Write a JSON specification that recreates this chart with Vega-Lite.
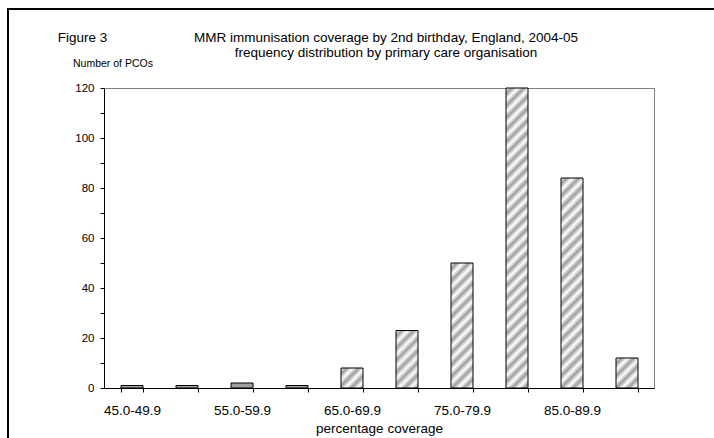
{
  "$schema": "https://vega.github.io/schema/vega-lite/v6.json",
  "width": 900,
  "height": 500,
  "autosize": {"type": "none"},
  "padding": {"left": 8, "top": 9, "right": -194, "bottom": -71},
  "background": "white",
  "config": {
    "view": {"stroke": "black", "strokeWidth": 2, "fill": "white"},
    "font": "Liberation Sans",
    "axis": {
      "labelFont": "Liberation Sans",
      "titleFont": "Liberation Sans",
      "labelColor": "black",
      "titleColor": "black",
      "domainColor": "black",
      "tickColor": "black",
      "grid": false,
      "titleFontWeight": "normal"
    }
  },
  "data": {
    "values": [
      {"range": "45.0-49.9", "count": 1},
      {"range": "50.0-54.9", "count": 1},
      {"range": "55.0-59.9", "count": 2},
      {"range": "60.0-64.9", "count": 1},
      {"range": "65.0-69.9", "count": 8},
      {"range": "70.0-74.9", "count": 23},
      {"range": "75.0-79.9", "count": 50},
      {"range": "80.0-84.9", "count": 120},
      {"range": "85.0-89.9", "count": 84},
      {"range": "90.0-94.9", "count": 12}
    ]
  },
  "layer": [
    {
      "mark": {"type": "bar", "stroke": "black", "strokeWidth": 1},
      "encoding": {
        "x": {
          "field": "range",
          "type": "nominal",
          "sort": null,
          "scale": {"range": [96.5, 646.5], "paddingInner": 0.6, "paddingOuter": 0.3},
          "axis": {
            "orient": "bottom",
            "offset": -121,
            "tickBand": "extent",
            "tickSize": 4,
            "labelPadding": 11,
            "labelFontSize": 13.5,
            "labelAngle": 0,
            "labelOverlap": false,
            "labelExpr": "indexof(['45.0-49.9','55.0-59.9','65.0-69.9','75.0-79.9','85.0-89.9'], datum.value) >= 0 ? datum.label : ''",
            "title": "percentage coverage",
            "titleFontSize": 13.5,
            "titleAlign": "center",
            "titleBaseline": "alphabetic",
            "titleX": 371,
            "titleY": 44.5
          }
        },
        "y": {
          "field": "count",
          "type": "quantitative",
          "scale": {"domain": [0, 120], "range": [379, 79], "nice": false},
          "axis": {
            "orient": "left",
            "offset": -96,
            "values": [0, 10, 20, 30, 40, 50, 60, 70, 80, 90, 100, 110, 120],
            "labelExpr": "datum.value % 20 === 0 ? datum.label : ''",
            "tickSize": 4,
            "labelPadding": 6,
            "labelFontSize": 11.5,
            "title": "Number of PCOs",
            "titleFontSize": 10.5,
            "titleAngle": 0,
            "titleAlign": "left",
            "titleBaseline": "alphabetic",
            "titleX": -31.5,
            "titleY": 57.5
          }
        },
        "fill": {
          "condition": [
            {"test": "datum.range === '80.0-84.9'", "value": {"gradient": "linear", "x1": 0, "y1": 0, "x2": 0.0783, "y2": 1.0676, "stops": [
              {"offset": 0, "color": "#ffffff"}, {"offset": 0.0186, "color": "#9e9e9e"}, {"offset": 0.0373, "color": "#ffffff"}, {"offset": 0.0559, "color": "#9e9e9e"},
              {"offset": 0.0745, "color": "#ffffff"}, {"offset": 0.0932, "color": "#9e9e9e"}, {"offset": 0.1118, "color": "#ffffff"}, {"offset": 0.1304, "color": "#9e9e9e"},
              {"offset": 0.1491, "color": "#ffffff"}, {"offset": 0.1677, "color": "#9e9e9e"}, {"offset": 0.1863, "color": "#ffffff"}, {"offset": 0.2050, "color": "#9e9e9e"},
              {"offset": 0.2236, "color": "#ffffff"}, {"offset": 0.2422, "color": "#9e9e9e"}, {"offset": 0.2609, "color": "#ffffff"}, {"offset": 0.2795, "color": "#9e9e9e"},
              {"offset": 0.2981, "color": "#ffffff"}, {"offset": 0.3168, "color": "#9e9e9e"}, {"offset": 0.3354, "color": "#ffffff"}, {"offset": 0.3540, "color": "#9e9e9e"},
              {"offset": 0.3727, "color": "#ffffff"}, {"offset": 0.3913, "color": "#9e9e9e"}, {"offset": 0.4099, "color": "#ffffff"}, {"offset": 0.4286, "color": "#9e9e9e"},
              {"offset": 0.4472, "color": "#ffffff"}, {"offset": 0.4658, "color": "#9e9e9e"}, {"offset": 0.4845, "color": "#ffffff"}, {"offset": 0.5031, "color": "#9e9e9e"},
              {"offset": 0.5217, "color": "#ffffff"}, {"offset": 0.5404, "color": "#9e9e9e"}, {"offset": 0.5590, "color": "#ffffff"}, {"offset": 0.5776, "color": "#9e9e9e"},
              {"offset": 0.5963, "color": "#ffffff"}, {"offset": 0.6149, "color": "#9e9e9e"}, {"offset": 0.6335, "color": "#ffffff"}, {"offset": 0.6522, "color": "#9e9e9e"},
              {"offset": 0.6708, "color": "#ffffff"}, {"offset": 0.6894, "color": "#9e9e9e"}, {"offset": 0.7081, "color": "#ffffff"}, {"offset": 0.7267, "color": "#9e9e9e"},
              {"offset": 0.7453, "color": "#ffffff"}, {"offset": 0.7640, "color": "#9e9e9e"}, {"offset": 0.7826, "color": "#ffffff"}, {"offset": 0.8012, "color": "#9e9e9e"},
              {"offset": 0.8199, "color": "#ffffff"}, {"offset": 0.8385, "color": "#9e9e9e"}, {"offset": 0.8571, "color": "#ffffff"}, {"offset": 0.8758, "color": "#9e9e9e"},
              {"offset": 0.8944, "color": "#ffffff"}, {"offset": 0.9130, "color": "#9e9e9e"}, {"offset": 0.9317, "color": "#ffffff"}, {"offset": 0.9503, "color": "#9e9e9e"},
              {"offset": 0.9689, "color": "#ffffff"}, {"offset": 0.9876, "color": "#9e9e9e"}, {"offset": 1, "color": "#dddddd"}
            ]}},
            {"test": "datum.range === '85.0-89.9'", "value": {"gradient": "linear", "x1": 0, "y1": 0, "x2": 0.1145, "y2": 1.0928, "stops": [
              {"offset": 0, "color": "#ffffff"}, {"offset": 0.0259, "color": "#9e9e9e"}, {"offset": 0.0517, "color": "#ffffff"}, {"offset": 0.0776, "color": "#9e9e9e"},
              {"offset": 0.1034, "color": "#ffffff"}, {"offset": 0.1293, "color": "#9e9e9e"}, {"offset": 0.1552, "color": "#ffffff"}, {"offset": 0.1810, "color": "#9e9e9e"},
              {"offset": 0.2069, "color": "#ffffff"}, {"offset": 0.2328, "color": "#9e9e9e"}, {"offset": 0.2586, "color": "#ffffff"}, {"offset": 0.2845, "color": "#9e9e9e"},
              {"offset": 0.3103, "color": "#ffffff"}, {"offset": 0.3362, "color": "#9e9e9e"}, {"offset": 0.3621, "color": "#ffffff"}, {"offset": 0.3879, "color": "#9e9e9e"},
              {"offset": 0.4138, "color": "#ffffff"}, {"offset": 0.4397, "color": "#9e9e9e"}, {"offset": 0.4655, "color": "#ffffff"}, {"offset": 0.4914, "color": "#9e9e9e"},
              {"offset": 0.5172, "color": "#ffffff"}, {"offset": 0.5431, "color": "#9e9e9e"}, {"offset": 0.5690, "color": "#ffffff"}, {"offset": 0.5948, "color": "#9e9e9e"},
              {"offset": 0.6207, "color": "#ffffff"}, {"offset": 0.6466, "color": "#9e9e9e"}, {"offset": 0.6724, "color": "#ffffff"}, {"offset": 0.6983, "color": "#9e9e9e"},
              {"offset": 0.7241, "color": "#ffffff"}, {"offset": 0.7500, "color": "#9e9e9e"}, {"offset": 0.7759, "color": "#ffffff"}, {"offset": 0.8017, "color": "#9e9e9e"},
              {"offset": 0.8276, "color": "#ffffff"}, {"offset": 0.8534, "color": "#9e9e9e"}, {"offset": 0.8793, "color": "#ffffff"}, {"offset": 0.9052, "color": "#9e9e9e"},
              {"offset": 0.9310, "color": "#ffffff"}, {"offset": 0.9569, "color": "#9e9e9e"}, {"offset": 0.9828, "color": "#ffffff"}, {"offset": 1, "color": "#eeeeee"}
            ]}},
            {"test": "datum.range === '75.0-79.9'", "value": {"gradient": "linear", "x1": 0, "y1": 0, "x2": 0.2008, "y2": 1.1407, "stops": [
              {"offset": 0, "color": "#ffffff"}, {"offset": 0.0408, "color": "#9e9e9e"}, {"offset": 0.0816, "color": "#ffffff"}, {"offset": 0.1224, "color": "#9e9e9e"},
              {"offset": 0.1633, "color": "#ffffff"}, {"offset": 0.2041, "color": "#9e9e9e"}, {"offset": 0.2449, "color": "#ffffff"}, {"offset": 0.2857, "color": "#9e9e9e"},
              {"offset": 0.3265, "color": "#ffffff"}, {"offset": 0.3673, "color": "#9e9e9e"}, {"offset": 0.4082, "color": "#ffffff"}, {"offset": 0.4490, "color": "#9e9e9e"},
              {"offset": 0.4898, "color": "#ffffff"}, {"offset": 0.5306, "color": "#9e9e9e"}, {"offset": 0.5714, "color": "#ffffff"}, {"offset": 0.6122, "color": "#9e9e9e"},
              {"offset": 0.6531, "color": "#ffffff"}, {"offset": 0.6939, "color": "#9e9e9e"}, {"offset": 0.7347, "color": "#ffffff"}, {"offset": 0.7755, "color": "#9e9e9e"},
              {"offset": 0.8163, "color": "#ffffff"}, {"offset": 0.8571, "color": "#9e9e9e"}, {"offset": 0.8980, "color": "#ffffff"}, {"offset": 0.9388, "color": "#9e9e9e"},
              {"offset": 0.9796, "color": "#ffffff"}, {"offset": 1, "color": "#f0f0f0"}
            ]}},
            {"test": "datum.range === '70.0-74.9'", "value": {"gradient": "linear", "x1": 0, "y1": 0, "x2": 0.4615, "y2": 1.2061, "stops": [
              {"offset": 0, "color": "#ffffff"}, {"offset": 0.0755, "color": "#9e9e9e"}, {"offset": 0.1509, "color": "#ffffff"}, {"offset": 0.2264, "color": "#9e9e9e"},
              {"offset": 0.3019, "color": "#ffffff"}, {"offset": 0.3774, "color": "#9e9e9e"}, {"offset": 0.4528, "color": "#ffffff"}, {"offset": 0.5283, "color": "#9e9e9e"},
              {"offset": 0.6038, "color": "#ffffff"}, {"offset": 0.6792, "color": "#9e9e9e"}, {"offset": 0.7547, "color": "#ffffff"}, {"offset": 0.8302, "color": "#9e9e9e"},
              {"offset": 0.9057, "color": "#ffffff"}, {"offset": 0.9811, "color": "#9e9e9e"}, {"offset": 1, "color": "#a8a8a8"}
            ]}},
            {"test": "datum.range === '90.0-94.9'", "value": {"gradient": "linear", "x1": 0, "y1": 0, "x2": 0.8266, "y2": 1.1272, "stops": [
              {"offset": 0, "color": "#ffffff"}, {"offset": 0.1154, "color": "#9e9e9e"}, {"offset": 0.2308, "color": "#ffffff"}, {"offset": 0.3462, "color": "#9e9e9e"},
              {"offset": 0.4615, "color": "#ffffff"}, {"offset": 0.5769, "color": "#9e9e9e"}, {"offset": 0.6923, "color": "#ffffff"}, {"offset": 0.8077, "color": "#9e9e9e"},
              {"offset": 0.9231, "color": "#ffffff"}, {"offset": 1, "color": "#dddddd"}
            ]}},
            {"test": "datum.range === '65.0-69.9'", "value": {"gradient": "linear", "x1": 0, "y1": 0, "x2": 1.0452, "y2": 0.9502, "stops": [
              {"offset": 0, "color": "#ffffff"}, {"offset": 0.1429, "color": "#9e9e9e"}, {"offset": 0.2857, "color": "#ffffff"}, {"offset": 0.4286, "color": "#9e9e9e"},
              {"offset": 0.5714, "color": "#ffffff"}, {"offset": 0.7143, "color": "#9e9e9e"}, {"offset": 0.8571, "color": "#ffffff"}, {"offset": 1, "color": "#9e9e9e"}
            ]}}
          ],
          "value": "#a0a0a0"
        }
      }
    },
    {
      "mark": {"type": "bar", "opacity": 0},
      "encoding": {
        "x": {
          "field": "range",
          "type": "nominal",
          "sort": null,
          "axis": {
            "orient": "top",
            "offset": -79,
            "ticks": false,
            "labels": false,
            "domainColor": "#808080",
            "title": ["MMR immunisation coverage by 2nd birthday, England, 2004-05", "frequency distribution by primary care organisation"],
            "titleFontSize": 13.5,
            "titleAlign": "center",
            "titleBaseline": "alphabetic",
            "titleLineHeight": 15,
            "titleX": 377.5,
            "titleY": -47
          }
        },
        "y": {
          "field": "count",
          "type": "quantitative",
          "axis": {
            "orient": "right",
            "offset": -254,
            "ticks": false,
            "labels": false,
            "domainColor": "#808080",
            "title": "Figure 3",
            "titleFontSize": 13.5,
            "titleAngle": 0,
            "titleAlign": "left",
            "titleBaseline": "alphabetic",
            "titleX": -596.7,
            "titleY": 32.5
          }
        }
      }
    }
  ],
  "resolve": {"axis": {"x": "independent", "y": "independent"}}
}
